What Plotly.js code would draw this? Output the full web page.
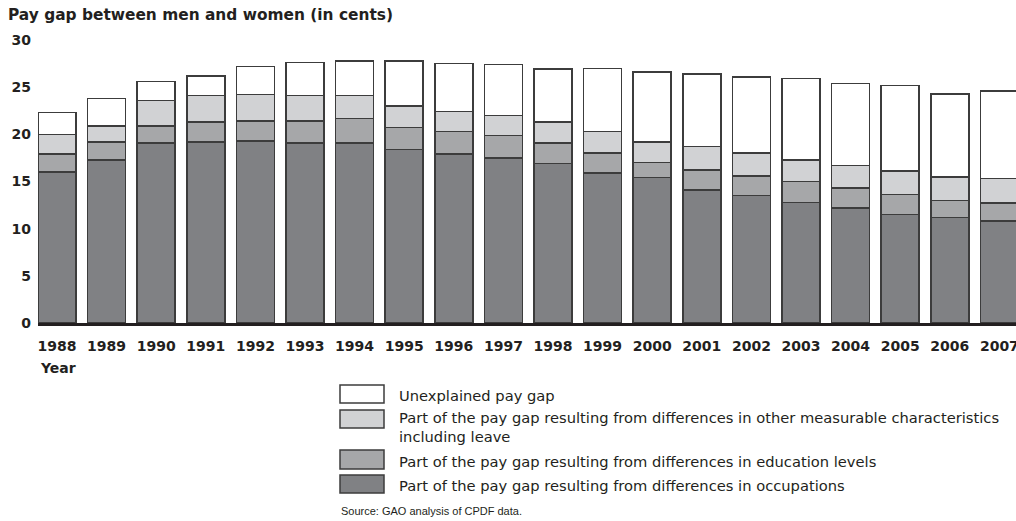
<!DOCTYPE html>
<html>
<head>
<meta charset="utf-8">
<script src="https://cdn.plot.ly/plotly-3.0.1.min.js"></script>
<style>html,body{margin:0;padding:0;background:#fff;}#chart{width:1016px;height:521px;}</style>
</head>
<body>
<div id="chart"></div>
<script>
// ---- data ----
const years = ['1988','1989','1990','1991','1992','1993','1994','1995','1996','1997',
               '1998','1999','2000','2001','2002','2003','2004','2005','2006','2007'];
const occupations = [16.0,17.3,19.1,19.2,19.3,19.1,19.1,18.4,17.9,17.5,16.9,15.9,15.4,14.1,13.5,12.8,12.2,11.5,11.2,10.8];
const education   = [1.9,1.9,1.8,2.1,2.1,2.3,2.6,2.3,2.4,2.4,2.2,2.1,1.6,2.1,2.1,2.2,2.1,2.1,1.8,1.9];
const otherChars  = [2.1,1.7,2.7,2.8,2.8,2.7,2.4,2.3,2.1,2.1,2.2,2.3,2.2,2.5,2.4,2.3,2.4,2.5,2.5,2.6];
const unexplained = [2.3,2.9,2.0,2.1,3.0,3.5,3.7,4.8,5.1,5.4,5.6,6.7,7.4,7.7,8.1,8.6,8.7,9.1,8.8,9.3];
const yTicks = [0,5,10,15,20,25,30];
const seriesNames = [
  'Part of the pay gap resulting from differences in occupations',
  'Part of the pay gap resulting from differences in education levels',
  'Part of the pay gap resulting from differences in other measurable characteristics<br>including leave',
  'Unexplained pay gap'
];
const chartTitle = 'Pay gap between men and women (in cents)';
const xTitle = 'Year';
const sourceNote = 'Source: GAO analysis of CPDF data.';

// ---- styling ----
const colors = ['#808184','#a6a7a9','#d1d2d4','#ffffff'];
const ink = '#231f20';
const W = 1016, H = 521;
const M = {l:38, r:0, t:40, b:198};
const plotW = W - M.l - M.r, plotH = H - M.t - M.b;
const px2x = px => (px - M.l) / plotW;
const px2y = py => (H - M.b - py) / plotH;

const values = [occupations, education, otherChars, unexplained];
const traces = values.map((v, i) => ({
  type: 'bar', x: years, y: v, name: seriesNames[i],
  marker: {color: colors[i], line: {color: '#3c3c3c', width: 1.5}},
  hoverinfo: 'skip'
}));

// manual legend (large swatches as in reference): top entry is the top of the stack
const legendRows = [
  {s: 3, box: [385, 403], text: 395.5},
  {s: 2, box: [410, 428], text: 427},
  {s: 1, box: [450, 469], text: 461},
  {s: 0, box: [475, 493], text: 485.5}
];
const shapes = legendRows.map(r => ({
  type: 'rect', xref: 'paper', yref: 'paper',
  x0: px2x(340), x1: px2x(384), y0: px2y(r.box[1]), y1: px2y(r.box[0]),
  fillcolor: colors[r.s], line: {color: '#3c3c3c', width: 1.5}
}));
const annotations = legendRows.map(r => ({
  xref: 'paper', yref: 'paper', x: px2x(397), y: px2y(r.text),
  xanchor: 'left', yanchor: 'middle', align: 'left', showarrow: false,
  text: seriesNames[r.s],
  font: {family: 'DejaVu Sans, sans-serif', size: 14.7, color: ink}
}));
annotations.push({
  xref: 'paper', yref: 'paper', x: px2x(339), y: px2y(511),
  xanchor: 'left', yanchor: 'middle', showarrow: false, text: sourceNote,
  font: {family: 'Liberation Sans, Arial, sans-serif', size: 11, color: ink}
});
annotations.push({
  xref: 'paper', yref: 'paper', x: px2x(38), y: px2y(367.5),
  xanchor: 'left', yanchor: 'middle', showarrow: false, text: xTitle,
  font: {family: 'DejaVu Sans, sans-serif', size: 14, weight: 'bold', color: ink}
});

const layout = {
  width: W, height: H, margin: M,
  paper_bgcolor: '#fff', plot_bgcolor: '#fff',
  barmode: 'stack', bargap: 0.234, showlegend: false, hovermode: false,
  title: {
    text: chartTitle, xref: 'container', yref: 'container',
    x: 8 / W, xanchor: 'left', y: 1 - 15 / H, yanchor: 'middle',
    font: {family: 'DejaVu Sans, sans-serif', size: 15.4, weight: 'bold', color: ink}
  },
  xaxis: {
    type: 'category', range: [-0.383, 19.335],
    showgrid: false, zeroline: false, fixedrange: true,
    showline: true, linecolor: ink, linewidth: 3,
    ticks: '', ticklabelstandoff: 8,
    tickfont: {family: 'DejaVu Sans, sans-serif', size: 14, weight: 'bold', color: ink}
  },
  yaxis: {
    range: [0, 30], tickvals: yTicks, ticktext: yTicks.map(String),
    showgrid: false, zeroline: false, showline: false, fixedrange: true,
    ticks: '', ticklabelstandoff: 6,
    tickfont: {family: 'DejaVu Sans, sans-serif', size: 14, weight: 'bold', color: ink}
  },
  shapes: shapes,
  annotations: annotations
};

Plotly.newPlot('chart', traces, layout, {displayModeBar: false, staticPlot: true});
</script>
</body>
</html>
